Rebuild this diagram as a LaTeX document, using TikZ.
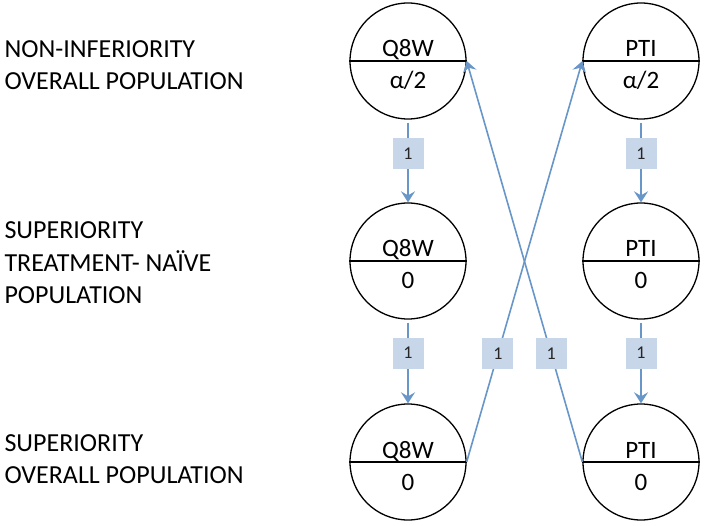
\documentclass[tikz,border=0pt]{standalone}
\usepackage{fontspec}
\setmainfont{Carlito}
\usetikzlibrary{arrows.meta}
\definecolor{linkblue}{RGB}{105,150,200}
\definecolor{boxblue}{RGB}{200,214,234}

\begin{document}
\begin{tikzpicture}[x=1pt,y=-1pt,
	hyp/.style={circle,draw,line width=1.3pt,minimum size=116pt,inner sep=0pt},
	split/.style={line width=1.3pt},
	htop/.style={anchor=base,yshift=4pt,font=\fontsize{25}{30}\selectfont},
	hbot/.style={anchor=base,yshift=-28pt,font=\fontsize{25}{30}\selectfont},
	link/.style={draw=linkblue,line width=1.6pt,-{Stealth[length=11pt,width=14pt,inset=4pt]}},
	wt/.style={fill=boxblue,minimum width=31pt,minimum height=31pt,inner sep=0pt,
		text=black!85,font=\fontsize{18}{20}\selectfont},
	lbl/.style={anchor=base west,align=left,font=\fontsize{26}{32}\selectfont}]
	\useasboundingbox (0,0) rectangle (706,526);
	% row labels (anchored at the baseline of the last line)
	\node[lbl] (ni) at (1,90) {NON-INFERIORITY\\OVERALL POPULATION};
	\node[lbl] (stn) at (1,303) {SUPERIORITY\\TREATMENT- NAÏVE\\POPULATION};
	\node[lbl] (so) at (1,483) {SUPERIORITY\\OVERALL POPULATION};
	% hypotheses
	\foreach \n/\x/\y/\h/\w in {q1/408/61/Q8W/{α/2},q2/408/261/Q8W/0,q3/408/462/Q8W/0,
		p1/641/61/PTI/{α/2},p2/641/261/PTI/0,p3/641/462/PTI/0}{
		\node[hyp] (\n) at (\x,\y) {};
		\draw[split] (\n.west) -- (\n.east);
		\node[htop] (\n-t) at (\n.center) {\h};
		\node[hbot] (\n-b) at (\n.center) {\w};
	}
	% transitions
	\draw[link,shorten <=3pt] (q1.south) -- node[wt,pos=0.41]{1} (q2.north);
	\draw[link,shorten <=3pt] (q2.south) -- node[wt,pos=0.4]{1} (q3.north);
	\draw[link,shorten <=3pt] (p1.south) -- node[wt,pos=0.41]{1} (p2.north);
	\draw[link,shorten <=3pt] (p2.south) -- node[wt,pos=0.4]{1} (p3.north);
	\draw[link] (q3.east) -- node[wt,pos=0.27]{1} (p1.west);
	\draw[link] (p3.west) -- node[wt,pos=0.27]{1} (q1.east);
\end{tikzpicture}
\end{document}
